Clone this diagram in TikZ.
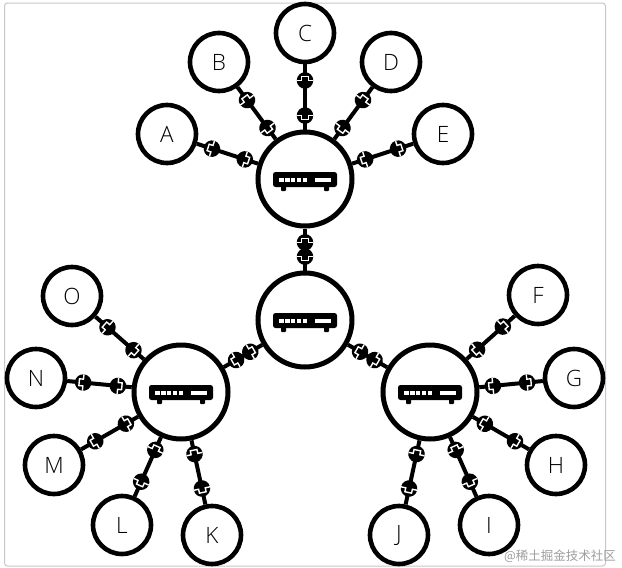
\documentclass[tikz,border=0pt]{standalone}
\usepackage{fontspec}
\setmainfont{Open Sans}[UprightFont={* Light}]
\newfontfamily\cjk{Noto Sans CJK SC}
\tikzset{
  hub/.style={circle,draw=black,line width=5pt,fill=white,minimum size=94pt,inner sep=0pt},
  leaf/.style={circle,draw=black,line width=4.6pt,fill=white,minimum size=58pt,inner sep=0pt,font=\fontsize{22.5}{24}\selectfont},
  wire/.style={line width=4pt,draw=black},
  plugbase/.style={circle,fill=black,minimum size=16.5pt,inner sep=0pt,sloped,allow upside down},
  plugin/.style={plugbase,path picture={
    \draw[white,line width=1.4pt] (0pt,-9pt)--(0pt,-3.4pt)--(#1*4pt,-3.4pt)--(#1*4pt,3.4pt)--(0pt,3.4pt)--(0pt,9pt);}},
  frame/.style={draw=black!22,line width=1pt,rounded corners=3pt},
  pics/router/.style={code={
    \fill[black,rounded corners=2.5] (-32,-7) rectangle (32,8);
    \fill[black,rounded corners=1] (-24,6) rectangle (-19,12);
    \fill[black,rounded corners=1] (19,6) rectangle (24,12);
    \foreach \u in {-25.7,-19.8,-14,-8.3,-2.3}{\fill[white] (\u,-1) rectangle +(4.4,4.4);}
    \fill[white] (10,-1) rectangle (26,3.4);
  }}
}
\newcommand{\conn}[5]{\draw[wire] (#1) -- node[plugin=-1,pos=#3] (#2a) {} node[plugin=1,pos=#4] (#2b) {} (#2);}
\begin{document}
\begin{tikzpicture}[x=1pt,y=-1pt]
\useasboundingbox (0,0) rectangle (622,568);
\fill[white] (0,0) rectangle (622,568);
\draw[frame] (4.5,3) rectangle (605.5,566);
\node[hub] (mid) at (305,320) {};
\node[hub] (top) at (305,179) {};
\node[hub] (lft) at (181,392) {};
\node[hub] (rgt) at (430,392) {};
\foreach \n/\x/\y in {A/167/134,B/219/62,C/305/33,D/391/62,E/443/134,F/538/295,G/574/378,H/556/465,I/489/525,J/399/535,K/212/535,L/122/525,M/54/465,N/36/378,O/72/296}{
  \node[leaf] (\n) at (\x,\y) {\n};
}
\foreach \h/\n in {top/A,top/B,top/C,top/D,top/E,rgt/F,rgt/G,rgt/H,rgt/I,rgt/J,lft/K,lft/L,lft/M,lft/N,lft/O}{
  \conn{\h}{\n}{.214}{.752}{}
}
\conn{mid}{top}{.33}{.67}{}
\conn{mid}{lft}{.31}{.68}{}
\conn{mid}{rgt}{.31}{.68}{}
\foreach \h in {mid,top,lft,rgt}{ \pic at (\h) {router}; }
\node[text=black!38,font=\cjk\fontsize{12.5}{14}\selectfont,inner sep=0pt] (wm) at (560,556) {@稀土掘金技术社区};
\end{tikzpicture}
\end{document}
